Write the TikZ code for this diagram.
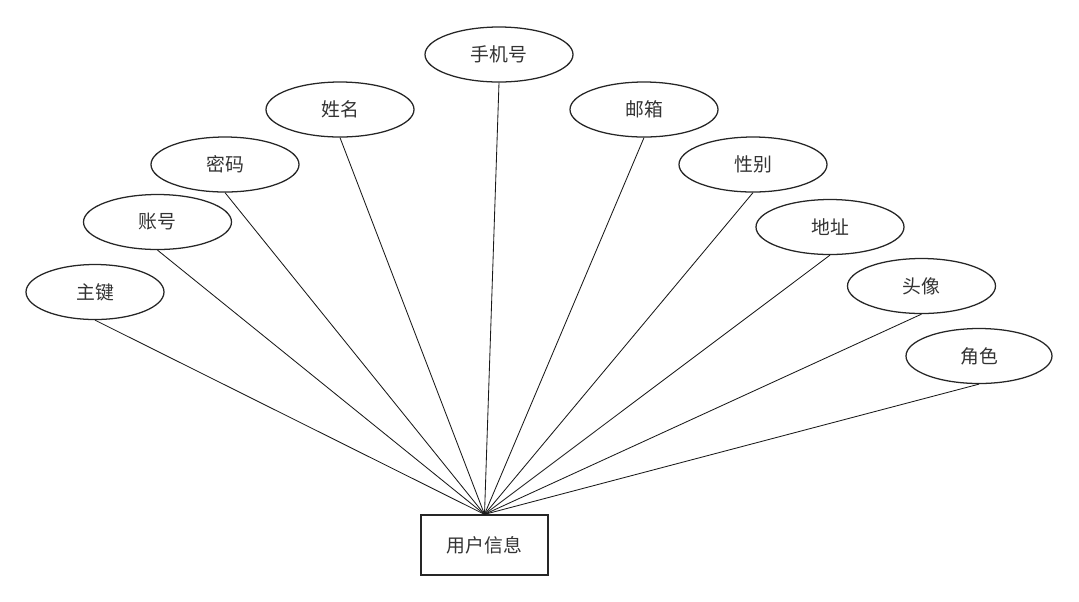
\documentclass[tikz,border=0pt]{standalone}
\usepackage{fontspec}
\setmainfont{Noto Sans CJK SC}
\usetikzlibrary{shapes.geometric}

\begin{document}
\begin{tikzpicture}[x=0.025cm, y=-0.025cm, font=\fontsize{13.4}{16}\selectfont,
    attr/.style={draw=black!85, ellipse, line width=0.9pt, minimum width=148*0.025cm,
        minimum height=55*0.025cm, inner sep=0pt, text=black!80},
    entity/.style={draw=black!85, rectangle, line width=0.9pt, minimum width=127*0.025cm,
        minimum height=60*0.025cm, inner sep=0pt, text=black!80},
    link/.style={draw=black!90, line width=0.6pt}]
    \useasboundingbox (0,0) rectangle (1079,601);
    % entity
    \node[entity] (user) at (484.5,545) {用户信息};
    % attributes
    \node[attr, minimum width=138*0.025cm] (pk) at (95,292) {主键};
    \node[attr] (account) at (157.5,222) {账号};
    \node[attr] (pwd) at (225,164.5) {密码};
    \node[attr] (name) at (340,109.5) {姓名};
    \node[attr] (phone) at (499,54.5) {手机号};
    \node[attr] (email) at (644,109.5) {邮箱};
    \node[attr] (gender) at (753,164.5) {性别};
    \node[attr] (addr) at (830,227) {地址};
    \node[attr] (avatar) at (921.5,286) {头像};
    \node[attr, minimum width=146*0.025cm] (role) at (979,356) {角色};
    % connectors
    \foreach \a in {pk, account, pwd, name, phone, email, gender, addr, avatar, role}
        \draw[link] (\a.south) -- (user.north);
\end{tikzpicture}
\end{document}
